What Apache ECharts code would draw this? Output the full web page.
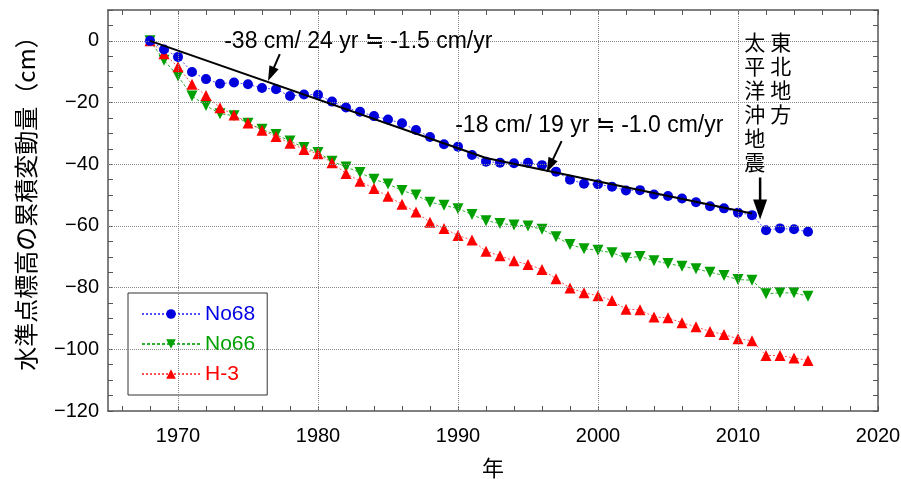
<!DOCTYPE html>
<html><head><meta charset="utf-8">
<script src="https://cdn.jsdelivr.net/npm/echarts@6/dist/echarts.min.js"></script>
<style>html,body{margin:0;padding:0;background:#fff}#c{width:901px;height:479px}</style>
</head><body><div id="c"></div>
<script>
// ---- data ----
const years = [1968,1969,1970,1971,1972,1973,1974,1975,1976,1977,1978,1979,1980,1981,1982,1983,1984,1985,1986,1987,1988,1989,1990,1991,1992,1993,1994,1995,1996,1997,1998,1999,2000,2001,2002,2003,2004,2005,2006,2007,2008,2009,2010,2011,2012,2013,2014,2015];
const no68 = [0,-2.8,-5.2,-10.1,-12.4,-13.9,-13.5,-14.1,-15.3,-15.7,-17.9,-17.4,-17.5,-19.7,-21.6,-23.0,-24.4,-25.5,-26.7,-28.9,-31.2,-33.5,-34.3,-37.0,-39.2,-39.5,-39.7,-39.5,-40.3,-42.4,-45.0,-46.3,-46.5,-47.3,-48.5,-48.4,-49.8,-50.3,-51.1,-52.3,-53.6,-54.3,-55.7,-56.5,-61.4,-60.8,-61.1,-61.9];
const no66 = [0,-6.3,-11.4,-17.9,-21.0,-23.6,-24.3,-26.7,-28.7,-30.4,-32.5,-34.6,-36.2,-39.0,-40.9,-42.7,-44.9,-46.4,-48.5,-50.0,-52.3,-53.3,-54.4,-56.3,-58.3,-59.2,-59.7,-60.0,-61.1,-63.5,-66.0,-67.4,-67.9,-68.7,-70.4,-69.9,-71.3,-72.2,-73.1,-73.9,-75.0,-76.1,-77.4,-77.6,-82.0,-81.7,-81.7,-82.8];
const h3 = [0,-4.2,-8.4,-14.1,-17.7,-21.7,-24.0,-26.6,-29.0,-31.0,-33.2,-35.2,-36.6,-39.5,-43.0,-45.5,-47.9,-50.4,-53.0,-55.5,-58.8,-60.8,-63.1,-64.6,-68.2,-69.7,-71.3,-72.5,-74.1,-77.1,-80.1,-81.7,-82.6,-84.2,-87.0,-87.2,-89.5,-89.8,-91.4,-92.7,-94.2,-95.2,-96.6,-97.2,-102.0,-102.0,-102.8,-103.6];
const trendYears = [1968, 1992, 2011];
const trendValues = [0, -38, -56];
const xTickLabels = [1970, 1980, 1990, 2000, 2010, 2020];
const yTickLabels = [-120, -100, -80, -60, -40, -20, 0];
const xMinorTicks = [1966,1968,1970,1972,1974,1976,1978,1980,1982,1984,1986,1988,1990,1992,1994,1996,1998,2000,2002,2004,2006,2008,2010,2012,2014,2016,2018,2020];
const yMinorTicks = [-120,-115,-110,-105,-100,-95,-90,-85,-80,-75,-70,-65,-60,-55,-50,-45,-40,-35,-30,-25,-20,-15,-10,-5,0,5,10];
const xGridLines = [1970, 1980, 1990, 2000, 2010];
const yGridLines = [-100, -80, -60, -40, -20, 0];

// annotation anchors (data units)
const arrows = [
  {tail: [1977.27, -4.3], head: [1976.43, -13.0], w: 10, l: 15, lw: 2},
  {tail: [1997.4, -32.5], head: [1996.33, -42.7], w: 10, l: 15, lw: 2},
  {tail: [2011.58, -44.3], head: [2011.58, -57.9], w: 14, l: 20, lw: 2.5}
];
const notes = [
  {at: [1973.3, -0.2], text: '-38 cm/ 24 yr ≒ -1.5 cm/yr'},
  {at: [1989.8, -27.6], text: '-18 cm/ 19 yr ≒ -1.0 cm/yr'}
];
const quakeCols = [
  {at: [2013.05, 3.6], text: '東北地方'},
  {at: [2011.2, 3.6], text: '太平洋沖地震'}
];

const tickFont = '"Liberation Sans", Arial, sans-serif';
const frame = {color: '#555', width: 1.5};
const pair = (xs, ys) => xs.map((x, i) => [x, ys[i]]);

const chart = echarts.init(document.getElementById('c'), null, {renderer: 'canvas'});

const xBase = {
  type: 'value', min: 1965, max: 2020,
  axisLine: {show: true, onZero: false, lineStyle: frame},
  axisTick: {show: true, inside: true, length: 5, customValues: xMinorTicks, lineStyle: {color: '#555', width: 1}},
  splitLine: {show: false}
};
const yBase = {
  type: 'value', min: -120, max: 10,
  axisLine: {show: true, onZero: false, lineStyle: frame},
  axisTick: {show: true, inside: true, length: 5, customValues: yMinorTicks, lineStyle: {color: '#555', width: 1}},
  splitLine: {show: false}
};

chart.setOption({
  animation: false,
  backgroundColor: '#fff',
  grid: {left: 108, right: 23, top: 10, bottom: 68, containLabel: false, outerBoundsMode: 'none'},
  xAxis: [
    Object.assign({}, xBase, {
      position: 'bottom',
      name: '年', nameLocation: 'middle', nameGap: 46,
      nameTextStyle: {fontSize: 22, color: '#000', fontFamily: '"Noto Sans CJK JP", sans-serif'},
      axisLabel: {show: true, customValues: xTickLabels, margin: 15, fontSize: 20, color: '#000', fontFamily: tickFont,
        formatter: v => String(v)}
    }),
    Object.assign({}, xBase, {position: 'top', axisLabel: {show: false}})
  ],
  yAxis: [
    Object.assign({}, yBase, {
      position: 'left',
      name: '水準点標高の累積変動量（cm）', nameLocation: 'middle', nameGap: 70, nameRotate: 90,
      nameTextStyle: {fontSize: 24, color: '#000', fontFamily: '"Noto Sans CJK JP", sans-serif', padding: [0, 0, 0, 26]},
      axisLabel: {show: true, customValues: yTickLabels, margin: 9, fontSize: 20, color: '#000', fontFamily: tickFont,
        formatter: v => String(v).replace('-', '\u2212')}
    }),
    Object.assign({}, yBase, {position: 'right', axisLabel: {show: false}})
  ],
  legend: {
    show: true, orient: 'vertical', left: 128, top: 293,
    backgroundColor: '#fff', borderColor: '#333', borderWidth: 1,
    padding: [9, 12, 9, 13], itemGap: 6, itemWidth: 58, itemHeight: 12,
    textStyle: {fontSize: 21, lineHeight: 24, fontFamily: tickFont},
    data: [
      {name: 'No68', textStyle: {color: '#0000e6'}},
      {name: 'No66', textStyle: {color: '#00a000'}},
      {name: 'H-3', textStyle: {color: '#ff0000'}}
    ]
  },
  series: [
    {
      name: 'grid', type: 'line', data: [], silent: true, z: 1,
      markLine: {
        silent: true, symbol: 'none', label: {show: false},
        lineStyle: {color: '#888', width: 1, type: [1, 1]},
        data: xGridLines.map(v => ({xAxis: v})).concat(yGridLines.map(v => ({yAxis: v})))
      }
    },
    {
      name: 'No68', type: 'line', data: pair(years, no68), z: 4,
      symbol: 'circle', symbolSize: 10,
      itemStyle: {color: '#0000dd'},
      lineStyle: {color: '#5050ff', width: 1, type: [2, 2]}
    },
    {
      name: 'No66', type: 'line', data: pair(years, no66), z: 3,
      symbol: 'triangle', symbolRotate: 180, symbolSize: 11,
      itemStyle: {color: '#00a000'},
      lineStyle: {color: '#30b030', width: 1, type: [3, 2]}
    },
    {
      name: 'H-3', type: 'line', data: pair(years, h3), z: 3,
      symbol: 'triangle', symbolSize: 11,
      itemStyle: {color: '#ff0000'},
      lineStyle: {color: '#ff5050', width: 1, type: [2, 2]}
    },
    {
      name: 'trend', type: 'line', data: pair(trendYears, trendValues), z: 5,
      symbol: 'none', lineStyle: {color: '#000', width: 2}, silent: true
    }
  ]
});

function px(p) { return chart.convertToPixel({xAxisIndex: 0, yAxisIndex: 0}, p); }
const g = [];
arrows.forEach(a => {
  const t = px(a.tail), h = px(a.head);
  const dx = h[0] - t[0], dy = h[1] - t[1], L = Math.hypot(dx, dy);
  const ux = dx / L, uy = dy / L, nx = -uy, ny = ux;
  const bx = h[0] - ux * a.l, by = h[1] - uy * a.l;
  g.push({type: 'line', z: 100, shape: {x1: t[0], y1: t[1], x2: bx + ux * 2, y2: by + uy * 2}, style: {stroke: '#000', lineWidth: a.lw}});
  g.push({type: 'polygon', z: 100, shape: {points: [[h[0], h[1]], [bx + nx * a.w / 2, by + ny * a.w / 2], [bx - nx * a.w / 2, by - ny * a.w / 2]]}, style: {fill: '#000'}});
});
notes.forEach(n => {
  const p = px(n.at);
  g.push({type: 'text', z: 100, x: p[0], y: p[1], style: {text: n.text, fill: '#000', font: '23px "Liberation Sans", Arial, sans-serif', align: 'left', verticalAlign: 'middle'}});
});
quakeCols.forEach(c => {
  const p = px(c.at);
  g.push({type: 'text', z: 100, x: p[0], y: p[1], style: {text: c.text.split('').join('\n'), fill: '#000', font: '21px "Noto Sans CJK JP", sans-serif', lineHeight: 24, align: 'center', verticalAlign: 'top'}});
});
chart.setOption({graphic: g});
</script>
</body></html>
